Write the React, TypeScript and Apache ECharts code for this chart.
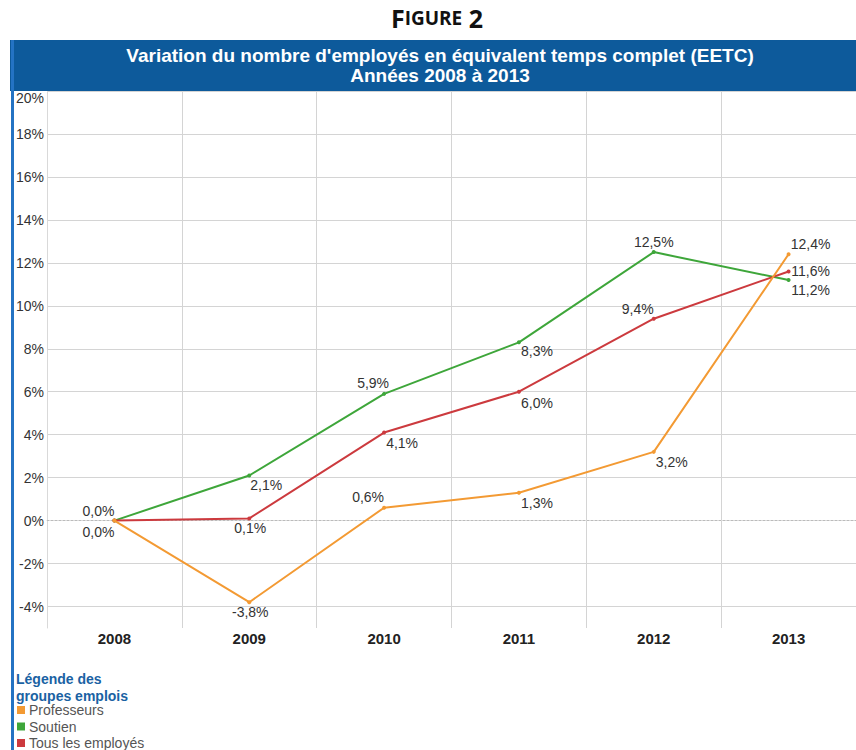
import React, { useEffect, useRef } from "react";
import * as echarts from "echarts";

const categories = ["2008", "2009", "2010", "2011", "2012", "2013"];
const professeurs = [0.0, -3.8, 0.6, 1.3, 3.2, 12.4];
const soutien = [0.0, 2.1, 5.9, 8.3, 12.5, 11.2];
const tous = [0.0, 0.1, 4.1, 6.0, 9.4, 11.6];
const seriesNames = ["Professeurs", "Soutien", "Tous les employés"];
const yTicks = [-4, -2, 0, 2, 4, 6, 8, 10, 12, 14, 16, 18, 20];
const yGridTicks = [-4, -2, 2, 4, 6, 8, 10, 12, 14, 16, 18, 20];

// label offsets (layout) per point
const profOffsets = [[-16, 11], [1, 10], [-16, -11], [18, 10], [18, 10], [22, -10]];
const soutOffsets = [[-16, -10], [17, 10], [-11, -11], [18, 9], [0, -10], [22, 10]];
const tousOffsets = [null, [1, 10], [18, 10], [18, 11], [-16, -10], [22, 0]];

const fmt = (v: number) => v.toFixed(1).replace(".", ",") + "%";

function buildData(values: number[], offsets: (number[] | null)[]) {
  return values.map((v, i) => {
    const o = offsets[i];
    return o
      ? { value: v, label: { show: true, offset: o } }
      : { value: v, label: { show: false } };
  });
}

export default function App() {
  const ref = useRef<HTMLDivElement>(null);
  useEffect(() => {
    if (!ref.current) return;
    const chart = echarts.init(ref.current, null, { renderer: "svg" });
    const labelCommon = {
      show: true,
      position: "inside",
      align: "center",
      verticalAlign: "middle",
      color: "#333",
      fontSize: 14,
      fontFamily: "Liberation Sans, Arial, sans-serif",
      textBorderWidth: 0,
      formatter: (p: any) => fmt(p.value),
    };
    const mk = (name: string, color: string, data: any[], z: number) => ({
      name,
      type: "line",
      data,
      symbol: "circle",
      symbolSize: 4,
      showSymbol: true,
      z,
      itemStyle: { color },
      lineStyle: { color, width: 2 },
      label: labelCommon,
      emphasis: { disabled: true },
    });
    const option: any = {
      animation: false,
      backgroundColor: "#fff",
      textStyle: { fontFamily: "Liberation Sans, Arial, sans-serif" },
      grid: { left: 47, right: -7, top: 91, bottom: 122, containLabel: false },
      xAxis: {
        type: "category",
        data: categories,
        boundaryGap: true,
        axisLine: { show: true, lineStyle: { color: "#d9d9d9", width: 1 } },
        axisTick: { show: false },
        axisLabel: {
          color: "#222",
          fontSize: 15,
          fontWeight: "bold",
          margin: 3,
          fontFamily: "Liberation Sans, Arial, sans-serif",
        },
        splitLine: { show: true, lineStyle: { color: "#d4d4d4", width: 1 } },
      },
      yAxis: {
        type: "value",
        min: -5,
        max: 20,
        axisLine: { show: true, lineStyle: { color: "#d9d9d9", width: 1 } },
        axisTick: { show: false, customValues: yGridTicks },
        axisLabel: {
          color: "#333",
          fontSize: 14,
          margin: 3,
          customValues: yTicks,
          fontFamily: "Liberation Sans, Arial, sans-serif",
          verticalAlignMaxLabel: "top",
          formatter: (v: number) => v + "%",
        },
        splitLine: {
          show: true,
          lineStyle: { color: "#d4d4d4", width: 1 },
        },
      },
      legend: {
        orient: "vertical",
        left: 17,
        top: 702,
        height: 60,
        icon: "rect",
        itemWidth: 8,
        itemHeight: 8,
        itemGap: 0.5,
        padding: 0,
        selectedMode: false,
        data: seriesNames,
        textStyle: {
          color: "#555",
          fontSize: 14,
          lineHeight: 16,
          padding: [0, 0, 0, -1],
          fontFamily: "Liberation Sans, Arial, sans-serif",
        },
      },
      graphic: [
        {
          type: "rect",
          left: 10,
          top: 40,
          shape: { width: 846, height: 51 },
          style: { fill: "#0d5a9b" },
          z: 10,
        },
        {
          type: "rect",
          left: 11,
          top: 40,
          shape: { width: 3, height: 710 },
          style: { fill: "#2473c3" },
          z: 11,
        },
        {
          type: "text",
          x: 440,
          y: 65,
          z: 12,
          style: {
            text: "Variation du nombre d'employés en équivalent temps complet (EETC)\nAnnées 2008 à 2013",
            fill: "#fff",
            font: "bold 19px 'Liberation Sans', Arial, sans-serif",
            lineHeight: 20,
            align: "center",
            verticalAlign: "middle",
          },
        },
        {
          type: "text",
          x: 437,
          y: 18,
          z: 12,
          style: {
            text: "{a|F}{b|IGURE}{a| 2}",
            align: "center",
            verticalAlign: "middle",
            rich: {
              a: { font: "bold 25px 'Open Sans', 'Liberation Sans', sans-serif", fill: "#111" },
              b: { font: "bold 19px 'Open Sans', 'Liberation Sans', sans-serif", fill: "#111" },
            },
          },
        },
        {
          type: "text",
          x: 16,
          y: 670,
          z: 12,
          style: {
            text: "Légende des\ngroupes emplois",
            fill: "#1a62a3",
            font: "bold 14px 'Liberation Sans', Arial, sans-serif",
            lineHeight: 17,
          },
        },
      ],
      series: [
        {
          ...mk("Soutien", "#3ea63a", buildData(soutien, soutOffsets), 3),
          markLine: {
            silent: true,
            symbol: ["none", "none"],
            label: { show: false },
            lineStyle: { color: "#bbb", type: [2, 2], width: 1 },
            data: [{ yAxis: 0 }],
            z: 1,
          },
        },
        mk("Tous les employés", "#cc3a3e", buildData(tous, tousOffsets), 4),
        mk("Professeurs", "#f39a33", buildData(professeurs, profOffsets), 5),
      ],
    };
    chart.setOption(option);
    return () => chart.dispose();
  }, []);
  return (
    <div
      ref={ref}
      style={{ position: "fixed", left: 0, top: 0, width: 856, height: 750, overflow: "hidden" }}
    />
  );
}
